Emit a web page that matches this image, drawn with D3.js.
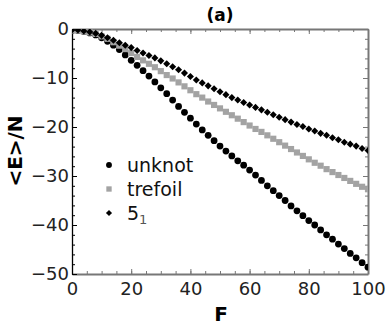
<!DOCTYPE html>
<html>
<head>
    <meta charset="utf-8">
    <title>Energy vs force</title>
    <script src="https://d3js.org/d3.v7.min.js"></script>
    <style>
        body { margin: 0; background: #fff; }
        svg { display: block; font-family: "DejaVu Sans", sans-serif; }
        .tick text { font-size: 18px; fill: #222; }
        .axis-title { font-size: 20px; font-weight: bold; text-anchor: middle; }
        .legend text { font-size: 19px; fill: #111; }
    </style>
</head>
<body>
<div id="chart"></div>
<script>
    // force values (x axis)
    const forces = d3.range(0, 101, 2);

    // <E>/N, one value per force
    const unknot = [
        -0.3, -0.3, -0.5, -0.8, -1.2, -1.8, -2.5, -3.3, -4.2, -5.3,
        -6.4, -7.4, -8.5, -9.6, -10.8, -12.0, -13.2, -14.5, -15.8, -17.0,
        -18.2, -19.4, -20.6, -21.7, -22.8, -23.9, -24.9, -25.9, -26.9, -27.8,
        -28.8, -29.8, -30.9, -32.0, -33.0, -34.0, -35.0, -36.1, -37.1, -38.1,
        -39.1, -40.0, -41.0, -42.0, -42.9, -43.9, -44.8, -45.8, -46.7, -47.7,
        -48.6
    ];
    const trefoil = [
        -0.3, -0.3, -0.5, -0.7, -1.0, -1.5, -2.0, -2.7, -3.4, -4.1,
        -4.9, -5.7, -6.4, -7.1, -7.8, -8.6, -9.4, -10.1, -10.9, -11.7,
        -12.5, -13.3, -14.0, -14.8, -15.5, -16.2, -16.9, -17.6, -18.3, -19.0,
        -19.7, -20.4, -21.0, -21.7, -22.4, -23.1, -23.8, -24.5, -25.2, -25.9,
        -26.6, -27.3, -27.9, -28.6, -29.2, -29.8, -30.4, -31.0, -31.6, -32.2,
        -32.7
    ];
    const knot51 = [
        -0.2, -0.2, -0.4, -0.6, -0.9, -1.3, -1.8, -2.3, -2.8, -3.3,
        -3.8, -4.4, -4.9, -5.4, -5.9, -6.5, -7.1, -7.7, -8.3, -9.0,
        -9.7, -10.4, -11.0, -11.6, -12.2, -12.8, -13.4, -14.0, -14.5, -15.0,
        -15.5, -16.0, -16.5, -17.0, -17.5, -18.0, -18.5, -19.0, -19.5, -19.9,
        -20.4, -20.8, -21.3, -21.7, -22.2, -22.6, -23.1, -23.5, -23.9, -24.4,
        -24.8
    ];

    const xTicks = [0, 20, 40, 60, 80, 100];
    const yTicks = [0, -10, -20, -30, -40, -50];

    const W = 390, H = 334;
    const mLeft = 72, mRight = 368, mTop = 29, mBottom = 274;

    const svg = d3.select("#chart").append("svg")
        .attr("width", W).attr("height", H);

    const x = d3.scaleLinear().domain([0, 100]).range([mLeft, mRight]);
    const y = d3.scaleLinear().domain([-50, 0]).range([mBottom, mTop]);

    const minorX = d3.range(0, 101, 5);
    const minorY = d3.range(-50, 1, 2);

    // axes: ticks point inward
    function styleAxis(g, color, width) {
        g.select(".domain").attr("stroke", color).attr("stroke-width", width);
        g.selectAll(".tick line").attr("stroke", color);
    }
    function majorOnly(g, color) {
        g.select(".domain").remove();
        g.selectAll(".tick line").attr("stroke", color);
    }

    // bottom
    svg.append("g").attr("transform", `translate(0,${mBottom})`)
        .call(d3.axisBottom(x).tickValues(minorX).tickSize(-3).tickFormat("").tickSizeOuter(0))
        .call(g => styleAxis(g, "#777", 2));
    svg.append("g").attr("transform", `translate(0,${mBottom})`)
        .call(d3.axisBottom(x).tickValues(xTicks).tickSize(-5).tickPadding(8).tickSizeOuter(0))
        .call(g => majorOnly(g, "#777"));

    // top
    svg.append("g").attr("transform", `translate(0,${mTop})`)
        .call(d3.axisTop(x).tickValues(minorX).tickSize(-3).tickFormat("").tickSizeOuter(0))
        .call(g => styleAxis(g, "#777", 2));
    svg.append("g").attr("transform", `translate(0,${mTop})`)
        .call(d3.axisTop(x).tickValues(xTicks).tickSize(-5).tickFormat("").tickSizeOuter(0))
        .call(g => majorOnly(g, "#777"));

    // right
    svg.append("g").attr("transform", `translate(${mRight},0)`)
        .call(d3.axisRight(y).tickValues(minorY).tickSize(-3).tickFormat("").tickSizeOuter(0))
        .call(g => styleAxis(g, "#777", 2));
    svg.append("g").attr("transform", `translate(${mRight},0)`)
        .call(d3.axisRight(y).tickValues(yTicks).tickSize(-5).tickFormat("").tickSizeOuter(0))
        .call(g => majorOnly(g, "#777"));

    // left
    svg.append("g").attr("transform", `translate(${mLeft},0)`)
        .call(d3.axisLeft(y).tickValues(minorY).tickSize(-3).tickFormat("").tickSizeOuter(0))
        .call(g => styleAxis(g, "#000", 1.3));
    svg.append("g").attr("transform", `translate(${mLeft},0)`)
        .call(d3.axisLeft(y).tickValues(yTicks).tickSize(-5).tickPadding(3).tickSizeOuter(0))
        .call(g => majorOnly(g, "#000"));

    svg.selectAll(".tick text").attr("font-family", "DejaVu Sans").attr("font-size", 18);

    // clip to plot frame
    svg.append("clipPath").attr("id", "plot-clip")
        .append("rect").attr("x", mLeft).attr("y", mTop)
        .attr("width", mRight - mLeft).attr("height", mBottom - mTop);

    const plot = svg.append("g").attr("clip-path", "url(#plot-clip)");

    // diamonds are squares turned 45 degrees
    const series = [
        { name: "unknot", values: unknot, symbol: d3.symbolCircle, size: 36, rot: 0, color: "#000" },
        { name: "trefoil", values: trefoil, symbol: d3.symbolSquare, size: 38, rot: 0, color: "#a3a3a3" },
        { name: "5_1", values: knot51, symbol: d3.symbolSquare, size: 25, rot: 45, color: "#000" }
    ];

    series.forEach(s => {
        plot.append("g").selectAll("path")
            .data(forces.map((f, i) => [f, s.values[i]]))
            .join("path")
            .attr("transform", d => `translate(${x(d[0])},${y(d[1])}) rotate(${s.rot})`)
            .attr("d", d3.symbol(s.symbol, s.size))
            .attr("fill", s.color);
    });

    // legend
    const legend = svg.append("g").attr("class", "legend");
    const rows = [165, 189, 213];
    series.forEach((s, i) => {
        legend.append("path")
            .attr("transform", `translate(109,${rows[i]}) rotate(${s.rot})`)
            .attr("d", d3.symbol(s.symbol, s.size * 0.75))
            .attr("fill", s.color);
    });
    legend.append("text").attr("x", 127).attr("y", rows[0] + 7).text("unknot");
    legend.append("text").attr("x", 127).attr("y", rows[1] + 7).text("trefoil");
    const t51 = legend.append("text").attr("x", 127).attr("y", rows[2] + 7);
    t51.append("tspan").text("5");
    t51.append("tspan").attr("font-size", 13).attr("dy", 4).attr("fill", "#555").text("1");

    // titles
    svg.append("text").attr("class", "axis-title")
        .attr("x", 221).attr("y", 321).text("F");
    svg.append("text").attr("class", "axis-title")
        .attr("transform", "translate(22,151) rotate(-90)")
        .text("<E>/N");
    svg.append("text").attr("class", "axis-title")
        .attr("x", 220).attr("y", 21).style("font-size", "17px").text("(a)");
</script>
</body>
</html>
